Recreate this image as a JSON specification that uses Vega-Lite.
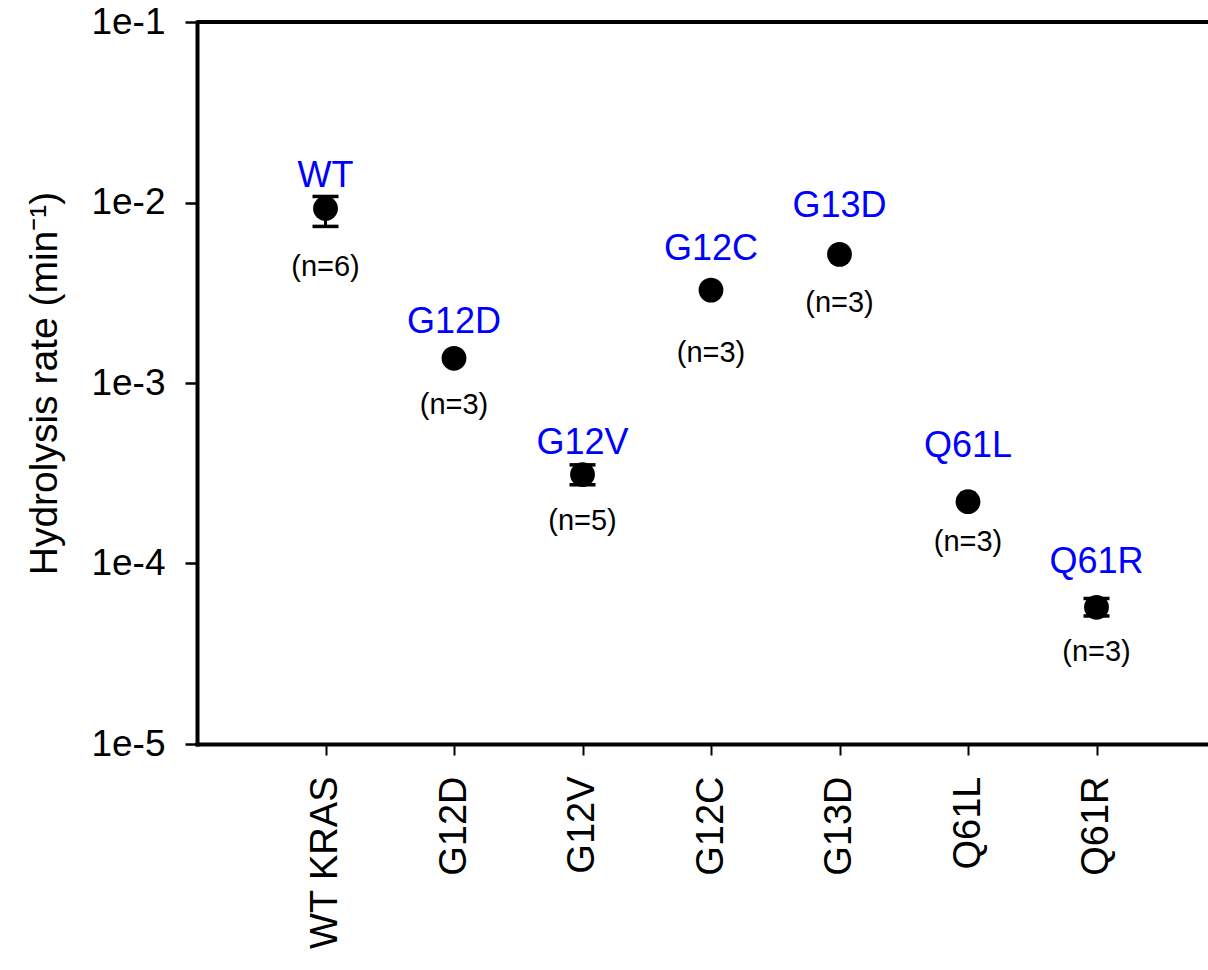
{
  "$schema": "https://vega.github.io/schema/vega-lite/v6.json",
  "width": 1011,
  "height": 722,
  "autosize": {"type": "none"},
  "padding": {"left": 197, "top": 22, "right": 0, "bottom": 226},
  "background": "white",
  "config": {"view": {"stroke": null}, "font": "Liberation Sans"},
  "data": {
    "values": [
      {"mut": "WT KRAS", "name": "WT", "rate": 0.00927, "lo": 0.00737, "hi": 0.0108, "n": "(n=6)", "name_y": 0.0141, "n_y": 0.00441},
      {"mut": "G12D", "name": "G12D", "rate": 0.00137, "n": "(n=3)", "name_y": 0.00217, "n_y": 0.000756},
      {"mut": "G12V", "name": "G12V", "rate": 0.000311, "lo": 0.000273, "hi": 0.000352, "n": "(n=5)", "name_y": 0.000466, "n_y": 0.000173},
      {"mut": "G12C", "name": "G12C", "rate": 0.00327, "n": "(n=3)", "name_y": 0.0055, "n_y": 0.00147},
      {"mut": "G13D", "name": "G13D", "rate": 0.00516, "n": "(n=3)", "name_y": 0.00951, "n_y": 0.00277},
      {"mut": "Q61L", "name": "Q61L", "rate": 0.00022, "n": "(n=3)", "name_y": 0.000449, "n_y": 0.000132},
      {"mut": "Q61R", "name": "Q61R", "rate": 0.0000572, "lo": 0.0000512, "hi": 0.0000640, "n": "(n=3)", "name_y": 0.0001025, "n_y": 0.0000322}
    ]
  },
  "layer": [
    {
      "mark": {"type": "rule", "stroke": "black", "strokeWidth": 4},
      "encoding": {
        "y": {"datum": 0.1, "type": "quantitative", "title": "Hydrolysis rate (min⁻¹)"}
      }
    },
    {
      "transform": [{"filter": {"field": "lo", "valid": true}}],
      "mark": {"type": "rule", "stroke": "black", "strokeWidth": 3},
      "encoding": {
        "x": {"field": "mut", "type": "nominal", "sort": null},
        "y": {"field": "lo", "type": "quantitative", "title": "Hydrolysis rate (min⁻¹)"},
        "y2": {"field": "hi"}
      }
    },
    {
      "transform": [{"filter": {"field": "lo", "valid": true}}],
      "mark": {"type": "tick", "orient": "horizontal", "color": "black", "size": 26, "thickness": 3.5, "opacity": 1},
      "encoding": {
        "x": {"field": "mut", "type": "nominal", "sort": null},
        "y": {"field": "lo", "type": "quantitative", "title": "Hydrolysis rate (min⁻¹)"}
      }
    },
    {
      "transform": [{"filter": {"field": "lo", "valid": true}}],
      "mark": {"type": "tick", "orient": "horizontal", "color": "black", "size": 26, "thickness": 3.5, "opacity": 1},
      "encoding": {
        "x": {"field": "mut", "type": "nominal", "sort": null},
        "y": {"field": "hi", "type": "quantitative", "title": "Hydrolysis rate (min⁻¹)"}
      }
    },
    {
      "mark": {"type": "point", "filled": true, "shape": "circle", "size": 615, "color": "black", "opacity": 1},
      "encoding": {
        "x": {
          "field": "mut", "type": "nominal", "sort": null,
          "scale": {"type": "point", "padding": 1, "range": [0, 1028], "domain": ["WT KRAS", "G12D", "G12V", "G12C", "G13D", "Q61L", "Q61R"]},
          "axis": {
            "title": null, "labelAngle": -90, "labelFontSize": 38, "labelColor": "black",
            "labelFont": "Liberation Sans", "labelPadding": 21, "tickSize": 11, "tickWidth": 2,
            "tickColor": "black", "domain": true, "domainWidth": 4, "domainColor": "black",
            "domainCap": "square", "grid": false
          }
        },
        "y": {
          "field": "rate", "type": "quantitative",
          "title": "Hydrolysis rate (min⁻¹)",
          "scale": {"type": "log", "domain": [0.00001, 0.1], "nice": false},
          "axis": {
            "values": [0.1, 0.01, 0.001, 0.0001, 0.00001],
            "labelExpr": "'1e-' + round(-log(datum.value)/LN10)",
            "domain": true, "domainColor": "black", "domainWidth": 4, "domainCap": "square",
            "ticks": true, "tickColor": "black", "tickSize": 12, "tickWidth": 2.5,
            "labelFontSize": 37, "labelColor": "black", "labelFont": "Liberation Sans",
            "labelPadding": 20, "labelFlush": false, "labelOverlap": false, "grid": false,
            "titleFontSize": 39, "titleFontWeight": "normal", "titleColor": "black",
            "titleFont": "Liberation Sans", "titlePadding": 26
          }
        }
      }
    },
    {
      "mark": {"type": "text", "color": "#0000ff", "fontSize": 36, "font": "Liberation Sans", "baseline": "middle", "align": "center"},
      "encoding": {
        "x": {"field": "mut", "type": "nominal", "sort": null},
        "y": {"field": "name_y", "type": "quantitative", "title": "Hydrolysis rate (min⁻¹)"},
        "text": {"field": "name"}
      }
    },
    {
      "mark": {"type": "text", "color": "black", "fontSize": 29, "font": "Liberation Sans", "baseline": "middle", "align": "center"},
      "encoding": {
        "x": {"field": "mut", "type": "nominal", "sort": null},
        "y": {"field": "n_y", "type": "quantitative", "title": "Hydrolysis rate (min⁻¹)"},
        "text": {"field": "n"}
      }
    }
  ]
}
